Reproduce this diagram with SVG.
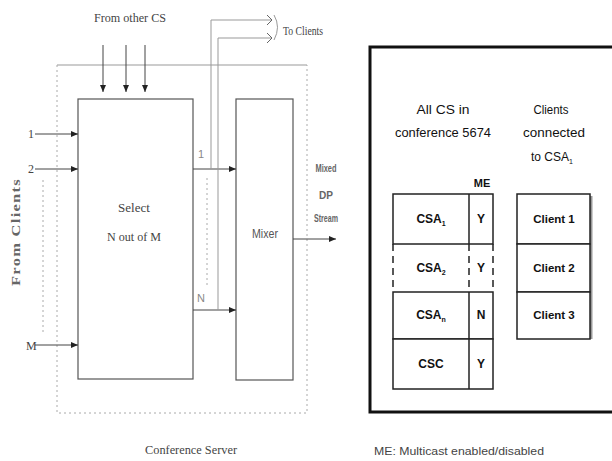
<svg xmlns="http://www.w3.org/2000/svg" width="612" height="461" viewBox="0 0 612 461">
<defs>
<marker id="ah" markerWidth="8" markerHeight="8" refX="7" refY="4" orient="auto" markerUnits="userSpaceOnUse">
<path d="M0,1 L7,4 L0,7 z" fill="#222"/>
</marker>
<marker id="oh" markerWidth="8" markerHeight="10" refX="6" refY="5" orient="auto" markerUnits="userSpaceOnUse">
<path d="M1,0 L6,5 L1,10" fill="none" stroke="#666" stroke-width="1"/>
</marker>
</defs>
<style>
.ln{stroke:#444;stroke-width:1;fill:none}
.lt{stroke:#999;stroke-width:1;fill:none}
.dt{stroke:#aaa;stroke-width:1;fill:none;stroke-dasharray:2,3}
.box{fill:#fff;stroke:#555;stroke-width:1.2}
.serif{font-family:"Liberation Serif","DejaVu Serif",serif;fill:#444}
.sans{font-family:"Liberation Sans",Arial,sans-serif;fill:#111}
.cell{fill:#fff;stroke:#222;stroke-width:1.5}
.ct{font-size:12px;font-weight:bold;text-anchor:middle}
.ms{font-size:11px;font-weight:bold;text-anchor:middle;fill:#666}
</style>
<rect width="612" height="461" fill="#fff"/>

<g id="conference-server">
<line x1="57" y1="65" x2="307" y2="65" class="lt"/>
<path d="M57,65 V413 H307 V65" class="dt"/>
<text x="191" y="454" class="serif" font-size="13" text-anchor="middle" textLength="92" lengthAdjust="spacingAndGlyphs">Conference Server</text>
</g>

<g id="select">
<rect x="78" y="99" width="115" height="280" class="box"/>
<text x="134" y="212" class="serif" font-size="13" text-anchor="middle">Select</text>
<text x="134" y="241" class="serif" font-size="13" text-anchor="middle" textLength="54" lengthAdjust="spacingAndGlyphs">N out of M</text>
</g>

<g id="mixer">
<rect x="236" y="99" width="57" height="281" class="box"/>
<text x="265" y="238" class="sans" font-size="12" text-anchor="middle" textLength="26" lengthAdjust="spacingAndGlyphs" style="fill:#555">Mixer</text>
</g>

<g id="from-clients">
<text transform="translate(20,232) rotate(-90)" class="serif" font-size="13" font-weight="bold" text-anchor="middle" textLength="108" lengthAdjust="spacingAndGlyphs" style="letter-spacing:1px;fill:#666">From Clients</text>
<text x="28" y="138" class="serif" font-size="12">1</text>
<text x="28" y="173" class="serif" font-size="12">2</text>
<text x="26" y="350" class="serif" font-size="12">M</text>
</g>

<g id="from-other-cs">
<text x="130" y="22" class="serif" font-size="13" text-anchor="middle" textLength="72" lengthAdjust="spacingAndGlyphs">From other CS</text>
</g>

<g id="to-clients">
<text x="283" y="35" class="serif" font-size="13" textLength="40" lengthAdjust="spacingAndGlyphs">To Clients</text>
<path d="M274,15 Q281,27 274,40" class="lt"/>
</g>

<g id="mixed-stream">
<text x="326" y="172" class="sans ms" textLength="21" lengthAdjust="spacingAndGlyphs">Mixed</text>
<text x="326" y="199" class="sans ms" textLength="14" lengthAdjust="spacingAndGlyphs">DP</text>
<text x="326" y="222" class="sans ms" textLength="24" lengthAdjust="spacingAndGlyphs">Stream</text>
</g>

<g id="connectors">
<line x1="103" y1="45" x2="103" y2="92" class="ln" marker-end="url(#ah)"/>
<line x1="126" y1="45" x2="126" y2="92" class="ln" marker-end="url(#ah)"/>
<line x1="145" y1="45" x2="145" y2="92" class="ln" marker-end="url(#ah)"/>
<line x1="35" y1="134" x2="78" y2="134" class="ln" marker-end="url(#ah)"/>
<line x1="35" y1="169" x2="78" y2="169" class="ln" marker-end="url(#ah)"/>
<line x1="35" y1="345" x2="78" y2="345" class="ln" marker-end="url(#ah)"/>
<line x1="43" y1="180" x2="43" y2="332" class="dt"/>
<line x1="193" y1="169" x2="236" y2="169" class="ln" marker-end="url(#ah)"/>
<line x1="193" y1="310" x2="236" y2="310" class="ln" marker-end="url(#ah)"/>
<line x1="207" y1="178" x2="207" y2="288" class="dt"/>
<text x="198" y="158" class="sans" font-size="11" style="fill:#888">1</text>
<text x="197" y="302" class="sans" font-size="11" style="fill:#888">N</text>
<path d="M211,169 V20 H272" class="lt" marker-end="url(#oh)"/>
<path d="M218,310 V38 H272" class="lt" marker-end="url(#oh)"/>
<line x1="293" y1="239" x2="336" y2="239" class="ln" marker-end="url(#ah)"/>
</g>

<g id="cs-table">
<rect x="370" y="47" width="250" height="365" fill="none" stroke="#111" stroke-width="3"/>
<text x="443" y="114" class="sans" font-size="12" text-anchor="middle" textLength="53" lengthAdjust="spacingAndGlyphs">All CS in</text>
<text x="443" y="137" class="sans" font-size="12" text-anchor="middle" textLength="96" lengthAdjust="spacingAndGlyphs">conference 5674</text>
<text x="482" y="187" class="sans" font-size="11" font-weight="bold" text-anchor="middle">ME</text>
<g id="row-csa1">
<rect x="393" y="194" width="100" height="50" class="cell"/>
<line x1="469" y1="194" x2="469" y2="244" stroke="#222" stroke-width="1.5"/>
<text x="431" y="223" class="sans ct">CSA<tspan font-size="7" dy="3">1</tspan></text>
<text x="481" y="223" class="sans ct">Y</text>
</g>
<g id="row-csa2">
<path d="M393,244 V292 M469,244 V292 M493,244 V292" stroke="#222" stroke-width="1.5" stroke-dasharray="7,5" fill="none"/>
<text x="431" y="272" class="sans ct">CSA<tspan font-size="7" dy="3">2</tspan></text>
<text x="481" y="272" class="sans ct">Y</text>
</g>
<g id="row-csan">
<rect x="393" y="292" width="100" height="47" class="cell"/>
<line x1="469" y1="292" x2="469" y2="389" stroke="#222" stroke-width="1.5"/>
<text x="431" y="319" class="sans ct">CSA<tspan font-size="7" dy="3">n</tspan></text>
<text x="481" y="319" class="sans ct">N</text>
</g>
<g id="row-csc">
<rect x="393" y="339" width="100" height="50" class="cell"/>
<line x1="469" y1="339" x2="469" y2="389" stroke="#222" stroke-width="1.5"/>
<text x="431" y="368" class="sans ct">CSC</text>
<text x="481" y="368" class="sans ct">Y</text>
</g>
</g>

<g id="clients-table">
<text x="551" y="114" class="sans" font-size="12" text-anchor="middle" textLength="35" lengthAdjust="spacingAndGlyphs">Clients</text>
<text x="554" y="137" class="sans" font-size="12" text-anchor="middle" textLength="62" lengthAdjust="spacingAndGlyphs">connected</text>
<text x="552" y="161" class="sans" font-size="12" text-anchor="middle">to CSA<tspan font-size="7" dy="3">1</tspan></text>
<line x1="591" y1="196" x2="591" y2="339" stroke="#999" stroke-width="3"/>
<rect x="517" y="194" width="73" height="50" class="cell"/>
<rect x="517" y="244" width="73" height="48" class="cell"/>
<rect x="517" y="292" width="73" height="47" class="cell"/>
<text x="554" y="223" class="sans ct" style="font-size:11.5px">Client 1</text>
<text x="554" y="272" class="sans ct" style="font-size:11.5px">Client 2</text>
<text x="554" y="319" class="sans ct" style="font-size:11.5px">Client 3</text>
</g>

<text x="374" y="455" class="sans" font-size="11" textLength="170" lengthAdjust="spacingAndGlyphs" style="fill:#444">ME: Multicast enabled/disabled</text>
</svg>
